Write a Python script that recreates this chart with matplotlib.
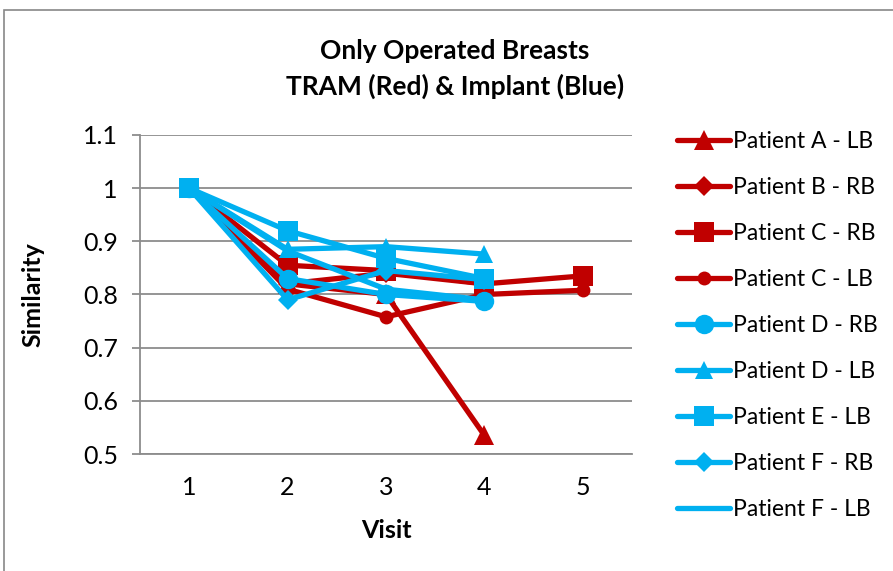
import matplotlib
matplotlib.use("Agg")
import matplotlib.pyplot as plt
from matplotlib.patches import Rectangle

visits = [1, 2, 3, 4, 5]
series_names = ["Patient A - LB", "Patient B - RB", "Patient C - RB", "Patient C - LB",
                "Patient D - RB", "Patient D - LB", "Patient E - LB", "Patient F - RB",
                "Patient F - LB"]
A_LB = [1.0, 0.82, 0.80, 0.535]
B_RB = [1.0, 0.82, 0.84, 0.82]
C_RB = [1.0, 0.855, 0.845, 0.82, 0.835]
C_LB = [1.0, 0.81, 0.758, 0.80, 0.808]
D_RB = [1.0, 0.83, 0.80, 0.787]
D_LB = [1.0, 0.885, 0.89, 0.876]
E_LB = [1.0, 0.92, 0.868, 0.83]
F_RB = [1.0, 0.79, 0.845, 0.828]
F_LB = [1.0, 0.882, 0.81, 0.79]
y_ticks = [0.5, 0.6, 0.7, 0.8, 0.9, 1.0, 1.1]
y_tick_labels = ["0.5", "0.6", "0.7", "0.8", "0.9", "1", "1.1"]

RED = "#C00000"
BLUE = "#00B0F0"
FONT = "Lato"

data = [A_LB, B_RB, C_RB, C_LB, D_RB, D_LB, E_LB, F_RB, F_LB]
colors = [RED, RED, RED, RED, BLUE, BLUE, BLUE, BLUE, BLUE]
markers = ["^", "D", "s", "o", "o", "^", "s", "D", None]
msizes = [14, 10, 14, 10, 14, 13, 14, 10, 0]

fig = plt.figure(figsize=(8.93, 5.71), dpi=100)
fig.patches.append(Rectangle((4 / 893, -0.1), 1.2, 1 - 10 / 571 + 0.1,
                             transform=fig.transFigure, fill=False,
                             edgecolor="#888888", linewidth=1.2))
ax = fig.add_axes([140 / 893, 1 - 454 / 571, 492 / 893, 319 / 571])

for vals, c, m, ms, name in zip(data, colors, markers, msizes, series_names):
    ax.plot(visits[:len(vals)], vals, color=c, linewidth=3.8, marker=m,
            markersize=ms, markeredgewidth=0, label=name, solid_capstyle="round")

ax.set_xlim(0.5, 5.5)
ax.set_ylim(0.5, 1.1)
ax.set_yticks(y_ticks)
ax.set_yticklabels(y_tick_labels)
ax.set_xticks(visits)
ax.set_xticklabels([str(v) for v in visits])
ax.grid(axis="y", color="#8c8c8c", linewidth=1.3)
ax.set_axisbelow(True)
for s in ["top", "right"]:
    ax.spines[s].set_visible(False)
for s in ["left", "bottom"]:
    ax.spines[s].set_color("#8c8c8c")
    ax.spines[s].set_linewidth(1.3)
ax.tick_params(axis="y", direction="out", length=6, width=1.3, color="#8c8c8c",
               labelsize=18, pad=10)
ax.tick_params(axis="x", length=0, labelsize=18, pad=16)
for lab in ax.get_xticklabels() + ax.get_yticklabels():
    lab.set_fontfamily(FONT)

ax.set_xlabel("Visit", fontsize=18, fontweight="bold", fontfamily=FONT)
ax.set_ylabel("Similarity", fontsize=18, fontweight="bold", fontfamily=FONT)
ax.xaxis.set_label_coords(0.5, (454 - 530) / 319)
ax.xaxis.label.set_va("center")
ax.yaxis.set_label_coords((33 - 140) / 492, 0.5)
ax.yaxis.label.set_va("center")
fig.text(455 / 893, 1 - 69 / 571, "Only Operated Breasts\nTRAM (Red) & Implant (Blue)",
         ha="center", va="center", fontsize=19, fontweight="bold", fontfamily=FONT,
         linespacing=1.55)

leg = fig.legend(loc="upper left", bbox_to_anchor=(668 / 893, 1 - 122 / 571),
                 frameon=False, prop={"family": FONT, "size": 16.5},
                 handlelength=2.3, labelspacing=1.09, handletextpad=0.15,
                 borderaxespad=0)

fig.savefig("out.png", dpi=100)
